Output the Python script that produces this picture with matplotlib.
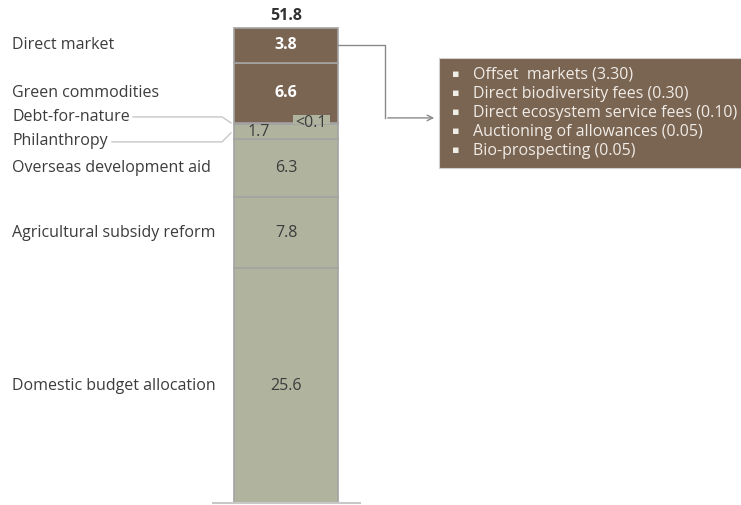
import matplotlib
matplotlib.use('Agg')
import matplotlib.pyplot as plt
from matplotlib.patches import Rectangle

# data (stacked from the bottom)
categories = ['Domestic budget allocation', 'Agricultural subsidy reform',
              'Overseas development aid', 'Philanthropy', 'Debt-for-nature',
              'Green commodities', 'Direct market']
values = [25.6, 7.8, 6.3, 1.7, 0.05, 6.6, 3.8]
value_labels = ['25.6', '7.8', '6.3', '1.7', '<0.1', '6.6', '3.8']
total_label = '51.8'
market_items = ['Offset  markets (3.30)', 'Direct biodiversity fees (0.30)',
                'Direct ecosystem service fees (0.10)',
                'Auctioning of allowances (0.05)', 'Bio-prospecting (0.05)']

brown = '#7a6452'
green = '#b0b49e'
sep = '#a3a3a3'
txt = '#3c3c3c'
colors = [green, green, green, green, green, brown, brown]

plt.rcParams['font.family'] = ['Open Sans', 'DejaVu Sans']
fs = 11.5

fig = plt.figure(figsize=(7.41, 5.05), dpi=100)
ax = fig.add_axes([0, 0, 1, 1])
ax.set_xlim(0, 741)
ax.set_ylim(-0.22, 54.9)
ax.axis('off')


def py(p):
    # pixel row -> data y
    return (503 - p) / 9.16


bx, bw = 286, 104
bottoms = []
b = 0
for v, c in zip(values, colors):
    bottoms.append(b)
    ax.bar(bx, v, width=bw, bottom=b, color=c, edgecolor=sep, linewidth=1.2)
    b += v
top = b

# baseline
ax.plot([213, 360], [-0.05, -0.05], color='#c8c8c8', lw=1.5)

ax.text(bx, top + 1.3, total_label, ha='center', va='center', fontsize=fs,
        fontweight='bold', color='#303030')

centers = [bo + v / 2 for bo, v in zip(bottoms, values)]

# value labels inside bar
for i in [0, 1, 2]:
    ax.text(bx, centers[i], value_labels[i], ha='center', va='center',
            fontsize=fs, color=txt)
for i in [5, 6]:
    ax.text(bx, centers[i], value_labels[i], ha='center', va='center',
            fontsize=fs, color='white', fontweight='bold')
ax.text(259, centers[3] - 0.1, value_labels[3], ha='center', va='center',
        fontsize=fs, color=txt)
# small box for debt-for-nature
ax.add_patch(Rectangle((293, bottoms[4]), 37, py(115) - bottoms[4],
                       facecolor=green, edgecolor='none', zorder=3))
ax.text(311, py(123), value_labels[4], ha='center', va='center',
        fontsize=fs, color=txt, zorder=4)

# category labels on the left
label_y = {0: centers[0], 1: centers[1], 2: centers[2],
           3: py(141), 4: py(117), 5: centers[5], 6: centers[6]}
for i, name in enumerate(categories):
    ax.text(12, label_y[i], name, ha='left', va='center', fontsize=fs, color=txt)

# connector lines for the small items
ax.plot([133, 222, 231], [py(117), py(117), py(123)], color='#c8c8c8', lw=1)
ax.plot([112, 222, 231], [py(142), py(142), py(133)], color='#c8c8c8', lw=1)

# callout for direct market
y_dm = centers[6]
y_arrow = py(118)
ax.plot([bx + bw / 2, 385, 385], [y_dm, y_dm, y_arrow], color='#8a8a8a', lw=1)
ax.annotate('', xy=(437, y_arrow), xytext=(385, y_arrow),
            arrowprops=dict(arrowstyle='->', color='#8a8a8a', lw=1))
ax.add_patch(Rectangle((439, py(168)), 310, py(58) - py(168),
                       facecolor=brown, edgecolor='#d0d0d0', lw=0.8))
for k, item in enumerate(market_items):
    yy = py(75 + k * 19)
    ax.text(452, yy, '\u25aa', ha='left', va='center', fontsize=8,
            color='#f0ece6')
    ax.text(473, yy, item, ha='left', va='center', fontsize=fs,
            color='#f0ece6')

fig.savefig('out.png', dpi=100)
